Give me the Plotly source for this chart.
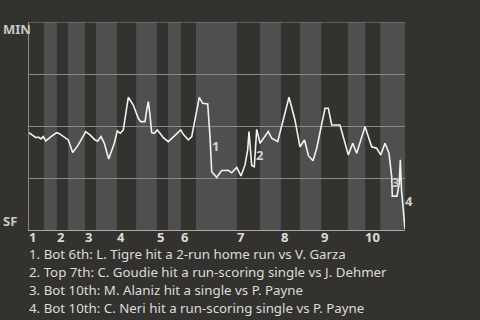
import plotly.graph_objects as go

# game progress (0-100) and MIN win probability
progress = [0, 0.72, 1.86, 2.47, 3.19, 3.80, 4.44, 5.85, 7.37, 8.06, 9.12, 10.03, 10.45, 11.62, 13.11,
            15.08, 16.22, 17.55, 18.27, 19.15, 20.03, 21.20, 22.69, 23.48, 24.28, 25.08, 25.53, 26.41,
            27.74, 29.07, 29.71, 30.85, 31.30, 31.73, 32.18, 32.63, 33.32, 34.12, 34.84, 35.72, 37.05,
            37.95, 39.28, 40.35, 41.04, 42.37, 43.27, 44.15, 45.29, 46.20, 47.53, 48.14, 48.59, 49.92,
            51.25, 53.01, 53.91, 55.24, 56.38, 57.45, 58.16, 58.51, 58.96, 59.23, 59.92, 60.56, 61.44,
            63.64, 64.55, 66.14, 69.15, 70.74, 72.07, 73.27, 74.34, 75.53, 76.52, 77.39, 78.72, 79.60,
            80.51, 82.71, 84.92, 86.09, 87.15, 89.36, 91.14, 92.47, 93.54, 94.68, 95.74, 96.46, 96.62,
            97.87, 98.48, 98.75, 99.07, 99.55, 100]
min_wp = [0.468, 0.460, 0.444, 0.447, 0.438, 0.449, 0.428, 0.449, 0.468, 0.463, 0.449, 0.441, 0.433,
          0.373, 0.409, 0.473, 0.457, 0.433, 0.428, 0.449, 0.417, 0.341, 0.417, 0.476, 0.465, 0.481,
          0.529, 0.638, 0.601, 0.537, 0.521, 0.521, 0.577, 0.617, 0.553, 0.468, 0.465, 0.481, 0.465,
          0.444, 0.425, 0.441, 0.465, 0.481, 0.460, 0.433, 0.449, 0.537, 0.638, 0.609, 0.606, 0.449,
          0.280, 0.253, 0.286, 0.287, 0.275, 0.301, 0.260, 0.313, 0.385, 0.473, 0.385, 0.310, 0.304,
          0.484, 0.417, 0.473, 0.441, 0.425, 0.638, 0.529, 0.400, 0.433, 0.356, 0.333, 0.393, 0.473,
          0.585, 0.585, 0.505, 0.505, 0.361, 0.417, 0.369, 0.497, 0.400, 0.393, 0.361, 0.417, 0.369,
          0.256, 0.163, 0.163, 0.225, 0.337, 0.192, 0.096, 0.005]

# half-inning boundaries (top 1, bot 1, top 2, ...)
half_edges = [0, 4.0, 7.4, 10.4, 14.9, 17.8, 23.4, 28.5, 34.0, 37.0, 40.4, 44.4, 55.3, 61.4, 67.0,
              72.1, 77.7, 84.8, 89.4, 93.4, 100]
inning_labels = ["1", "2", "3", "4", "5", "6", "7", "8", "9", "10"]

event_nums = ["1", "2", "3", "4"]
event_x = [49.7, 61.4, 97.6, 101.1]
event_y = [0.404, 0.361, 0.231, 0.139]
event_text = [
    "1. Bot 6th: L. Tigre hit a 2-run home run vs V. Garza",
    "2. Top 7th: C. Goudie hit a run-scoring single vs J. Dehmer",
    "3. Bot 10th: M. Alaniz hit a single vs P. Payne",
    "4. Bot 10th: C. Neri hit a run-scoring single vs P. Payne",
]
team_labels = ["MIN", "SF"]

BG = "#34322f"
LIGHT = "#4f4f4f"
TXT = "#dcdcdc"
FONT = "Noto Sans"
X_MAX = 100

fig = go.Figure()
fig.add_trace(go.Scatter(x=progress, y=min_wp, mode="lines",
                         line=dict(color="#f2f2f2", width=1.6), hoverinfo="skip"))

shapes = []
for i in range(1, len(half_edges) - 1, 2):
    shapes.append(dict(type="rect", xref="x", yref="paper", x0=half_edges[i], x1=half_edges[i + 1],
                       y0=0, y1=1, fillcolor=LIGHT, line=dict(width=0), layer="below"))
# top border gridline (value 1.0)
shapes.append(dict(type="line", xref="paper", yref="y", x0=0, x1=1, y0=1, y1=1,
                   line=dict(color="#8a8a8a", width=1), layer="below"))

annotations = []
for k, lab in enumerate(inning_labels):
    annotations.append(dict(x=half_edges[2 * k], y=0, xref="x", yref="paper", text="<b>%s</b>" % lab,
                            showarrow=False, xanchor="left", yanchor="middle", yshift=-7, xshift=-2,
                            font=dict(family=FONT, size=13, color=TXT)))
for n, ex, ey in zip(event_nums, event_x, event_y):
    annotations.append(dict(x=ex / X_MAX, y=ey, xref="paper", yref="y", text="<b>%s</b>" % n,
                            showarrow=False, xanchor="center", yanchor="middle",
                            font=dict(family=FONT, size=13, color="#d0d0d0")))
for j, t in enumerate(event_text):
    annotations.append(dict(x=0, y=0, xref="paper", yref="paper", text=t, showarrow=False,
                            xanchor="left", yanchor="middle", yshift=-(24 + 18 * j), xshift=-2,
                            font=dict(family=FONT, size=13.3, color=TXT)))
annotations.append(dict(x=0, y=1, xref="paper", yref="paper", text="<b>%s</b>" % team_labels[0],
                        showarrow=False, xanchor="left", yanchor="middle", xshift=-28, yshift=-7,
                        font=dict(family=FONT, size=13, color="#c8c8c8")))
annotations.append(dict(x=0, y=0, xref="paper", yref="paper", text="<b>%s</b>" % team_labels[1],
                        showarrow=False, xanchor="left", yanchor="middle", xshift=-28, yshift=9,
                        font=dict(family=FONT, size=13, color="#c8c8c8")))

fig.update_layout(
    width=480, height=320,
    margin=dict(l=29, r=75, t=22, b=90, pad=0),
    paper_bgcolor=BG, plot_bgcolor=BG,
    showlegend=False,
    shapes=shapes, annotations=annotations,
    xaxis=dict(range=[0, X_MAX], showgrid=False, zeroline=False, showticklabels=False, ticks="",
               showline=True, linecolor="#a8a8a8", linewidth=1),
    yaxis=dict(range=[0, 1], tickvals=[0.25, 0.5, 0.75], showticklabels=False, ticks="",
               showgrid=True, gridcolor="#8a8a8a", gridwidth=1, zeroline=False,
               showline=True, linecolor="#8a8a8a", linewidth=1),
)

fig.write_html("out.html")
